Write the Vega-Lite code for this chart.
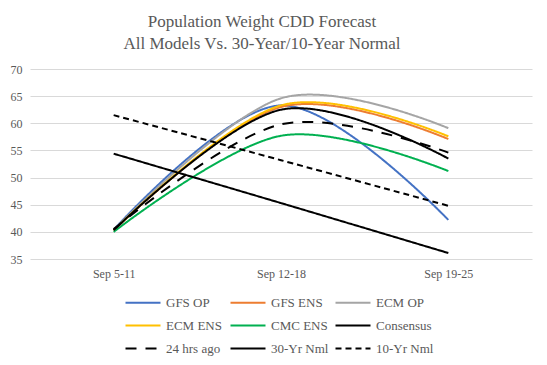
{
  "$schema": "https://vega.github.io/schema/vega-lite/v6.json",
  "width": 502,
  "height": 190,
  "autosize": "none",
  "padding": {"left": 30, "top": 69, "right": 15, "bottom": 106},
  "background": "white",
  "title": {
    "text": ["Population Weight CDD Forecast", "All  Models Vs. 30-Year/10-Year  Normal"],
    "font": "Liberation Serif",
    "fontSize": 17,
    "fontWeight": "normal",
    "color": "#595959",
    "lineHeight": 22,
    "anchor": "middle",
    "dx": -19,
    "offset": 10
  },
  "config": {
    "view": {"stroke": null}
  },
  "data": {
    "values": [
      {"week": "Sep 5-11", "series": "GFS OP", "value": 40.4},
      {"week": "Sep 12-18", "series": "GFS OP", "value": 63.3},
      {"week": "Sep 19-25", "series": "GFS OP", "value": 42.2},
      {"week": "Sep 5-11", "series": "GFS ENS", "value": 40.3},
      {"week": "Sep 12-18", "series": "GFS ENS", "value": 63.0},
      {"week": "Sep 19-25", "series": "GFS ENS", "value": 57.1},
      {"week": "Sep 5-11", "series": "ECM OP", "value": 40.3},
      {"week": "Sep 12-18", "series": "ECM OP", "value": 64.6},
      {"week": "Sep 19-25", "series": "ECM OP", "value": 59.1},
      {"week": "Sep 5-11", "series": "ECM ENS", "value": 40.3},
      {"week": "Sep 12-18", "series": "ECM ENS", "value": 63.3},
      {"week": "Sep 19-25", "series": "ECM ENS", "value": 57.6},
      {"week": "Sep 5-11", "series": "CMC ENS", "value": 40.0},
      {"week": "Sep 12-18", "series": "CMC ENS", "value": 57.7},
      {"week": "Sep 19-25", "series": "CMC ENS", "value": 51.2},
      {"week": "Sep 5-11", "series": "Consensus", "value": 40.3},
      {"week": "Sep 12-18", "series": "Consensus", "value": 62.5},
      {"week": "Sep 19-25", "series": "Consensus", "value": 53.5},
      {"week": "Sep 5-11", "series": "24 hrs ago", "value": 40.5},
      {"week": "Sep 12-18", "series": "24 hrs ago", "value": 59.8},
      {"week": "Sep 19-25", "series": "24 hrs ago", "value": 54.6},
      {"week": "Sep 5-11", "series": "30-Yr Nml", "value": 54.4},
      {"week": "Sep 12-18", "series": "30-Yr Nml", "value": 45.3},
      {"week": "Sep 19-25", "series": "30-Yr Nml", "value": 36.1},
      {"week": "Sep 5-11", "series": "10-Yr Nml", "value": 61.5},
      {"week": "Sep 12-18", "series": "10-Yr Nml", "value": 53.2},
      {"week": "Sep 19-25", "series": "10-Yr Nml", "value": 44.8}
    ]
  },
  "mark": {"type": "line", "interpolate": "cardinal", "tension": 0, "strokeCap": "butt"},
  "encoding": {
    "x": {
      "field": "week", "type": "ordinal",
      "sort": ["Sep 5-11", "Sep 12-18", "Sep 19-25"],
      "scale": {"type": "point", "padding": 0.5},
      "axis": {"title": null, "labelAngle": 0, "domain": false, "ticks": false, "grid": false, "labelPadding": 9,
        "labelFont": "Liberation Serif", "labelFontSize": 12, "labelColor": "#595959"}
    },
    "y": {
      "field": "value", "type": "quantitative",
      "scale": {"domain": [35, 70], "nice": false, "zero": false},
      "axis": {"title": null, "values": [35, 40, 45, 50, 55, 60, 65, 70], "domain": false, "ticks": false, "gridColor": "#d9d9d9", "labelPadding": 8,
        "labelFont": "Liberation Serif", "labelFontSize": 12, "labelColor": "#595959"}
    },
    "color": {
      "field": "series", "type": "nominal",
      "scale": {
        "domain": ["GFS OP", "GFS ENS", "ECM OP", "ECM ENS", "CMC ENS", "Consensus", "24 hrs ago", "30-Yr Nml", "10-Yr Nml"],
        "range": ["#4472C4", "#ED7D31", "#A5A5A5", "#FFC000", "#00B050", "#000000", "#000000", "#000000", "#000000"]
      },
      "legend": {
        "title": null, "orient": "none", "legendX": 89, "legendY": 227, "columns": 3, "gridAlign": "all",
        "symbolType": "M0,0H7", "symbolSize": 100, "labelOffset": 34, "columnPadding": -4.5, "rowPadding": 9,
        "direction": "horizontal", "labelFont": "Liberation Serif", "labelFontSize": 13, "labelColor": "#595959"
      }
    },
    "strokeDash": {
      "field": "series", "type": "nominal",
      "scale": {
        "domain": ["GFS OP", "GFS ENS", "ECM OP", "ECM ENS", "CMC ENS", "Consensus", "24 hrs ago", "30-Yr Nml", "10-Yr Nml"],
        "range": [[1, 0], [1, 0], [1, 0], [1, 0], [1, 0], [1, 0], [11, 9], [1, 0], [6, 4]]
      },
      "legend": {
        "title": null, "orient": "none", "legendX": 89, "legendY": 227, "columns": 3, "gridAlign": "all",
        "symbolType": "M0,0H7", "symbolSize": 100, "labelOffset": 34, "columnPadding": -4.5, "rowPadding": 9,
        "direction": "horizontal", "labelFont": "Liberation Serif", "labelFontSize": 13, "labelColor": "#595959"
      }
    },
    "strokeWidth": {
      "field": "series", "type": "nominal",
      "scale": {
        "domain": ["GFS OP", "GFS ENS", "ECM OP", "ECM ENS", "CMC ENS", "Consensus", "24 hrs ago", "30-Yr Nml", "10-Yr Nml"],
        "range": [2, 2, 3, 2, 2, 4.5, 4.5, 1.5, 1.5]
      },
      "legend": {
        "title": null, "orient": "none", "legendX": 89, "legendY": 227, "columns": 3, "gridAlign": "all",
        "symbolType": "M0,0H7", "symbolSize": 100, "labelOffset": 34, "columnPadding": -4.5, "rowPadding": 9,
        "direction": "horizontal", "labelFont": "Liberation Serif", "labelFontSize": 13, "labelColor": "#595959"
      }
    }
  }
}
